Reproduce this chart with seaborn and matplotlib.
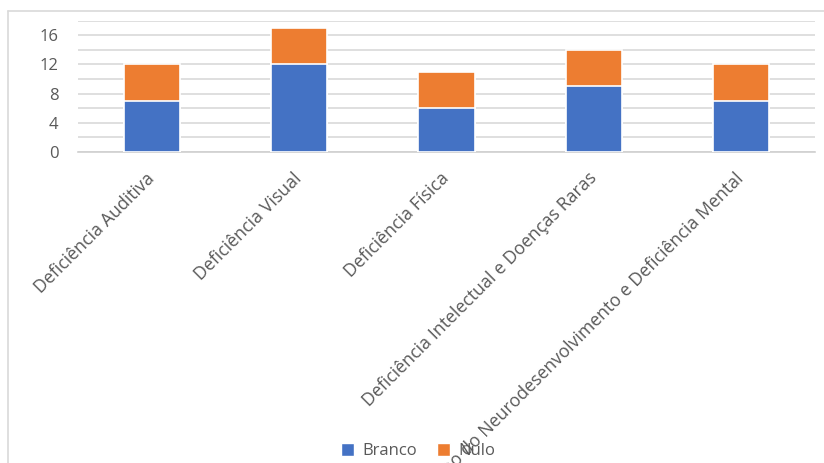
import matplotlib
matplotlib.use("Agg")
import matplotlib.pyplot as plt
from matplotlib.ticker import MultipleLocator, FixedLocator
from matplotlib.patches import Patch
from matplotlib.lines import Line2D
import seaborn as sns
import pandas as pd

categories = [
    "Deficiência Auditiva",
    "Deficiência Visual",
    "Deficiência Física",
    "Deficiência Intelectual e Doenças Raras",
    "Transtorno do Neurodesenvolvimento e Deficiência Mental",
]
branco = [7, 12, 6, 9, 7]
nulo = [5, 5, 5, 5, 5]
y_ticks = [0, 4, 8, 12, 16]

BLUE = "#4472C4"
ORANGE = "#ED7D31"
TEXT = "#595959"
GRID = "#d9d9d9"

sns.set_theme(style="white")
plt.rcParams["font.family"] = ["Open Sans", "DejaVu Sans"]

df = pd.DataFrame({"cat": categories, "branco": branco, "nulo": nulo})
df["total"] = df["branco"] + df["nulo"]

fig = plt.figure(figsize=(8.24, 4.63), dpi=100)
ax = fig.add_axes([78 / 824, 1 - 152 / 463, (815 - 78) / 824, (152 - 20.7) / 463])

sns.barplot(data=df, x="cat", y="total", color=ORANGE, saturation=1, width=0.38,
            edgecolor="white", linewidth=1.2, ax=ax, zorder=3)
sns.barplot(data=df, x="cat", y="branco", color=BLUE, saturation=1, width=0.38,
            edgecolor="white", linewidth=1.2, ax=ax, zorder=4)

ax.set_xlim(-0.5, len(categories) - 0.5)
ax.set_ylim(0, 18)
ax.yaxis.set_major_locator(FixedLocator(y_ticks))
ax.yaxis.set_minor_locator(MultipleLocator(2))
ax.grid(axis="y", which="both", color=GRID, linewidth=1.2, zorder=0)
ax.grid(axis="x", visible=False)
ax.set_axisbelow(True)

for s in ["top", "right", "left"]:
    ax.spines[s].set_visible(False)
ax.spines["bottom"].set_color("#d0d0d0")
ax.spines["bottom"].set_linewidth(1.2)

ax.set_xlabel("")
ax.set_ylabel("")
ax.tick_params(axis="y", which="both", length=0, labelsize=12, labelcolor=TEXT, pad=14)
ax.set_xticks(range(len(categories)))
ax.set_xticklabels(categories, rotation=45, ha="right", va="center",
                   rotation_mode="anchor", fontsize=12.8, color=TEXT)
ax.tick_params(axis="x", which="major", length=0, pad=17)
ax.set_xticks([i - 0.5 for i in range(len(categories) + 1)], minor=True)
ax.tick_params(axis="x", which="minor", length=5.5, width=1.2, color="#d0d0d0", direction="out")

# chart border (Excel-like frame, cropped)
fig.add_artist(Line2D([8 / 824, 8 / 824], [0, 1 - 11 / 463], color=GRID, linewidth=1.2,
                      transform=fig.transFigure))
fig.add_artist(Line2D([8 / 824, 1], [1 - 11 / 463, 1 - 11 / 463], color=GRID, linewidth=1.2,
                      transform=fig.transFigure))

handles = [Patch(facecolor=BLUE, label="Branco"), Patch(facecolor=ORANGE, label="Nulo")]
leg = fig.legend(handles=handles, loc="center", bbox_to_anchor=(418 / 824, 1 - 451 / 463),
                 ncol=2, frameon=False, fontsize=12, handlelength=0.8, handleheight=0.8,
                 handletextpad=0.5, columnspacing=1.2, labelcolor=TEXT)

fig.savefig("out.png", dpi=100)
